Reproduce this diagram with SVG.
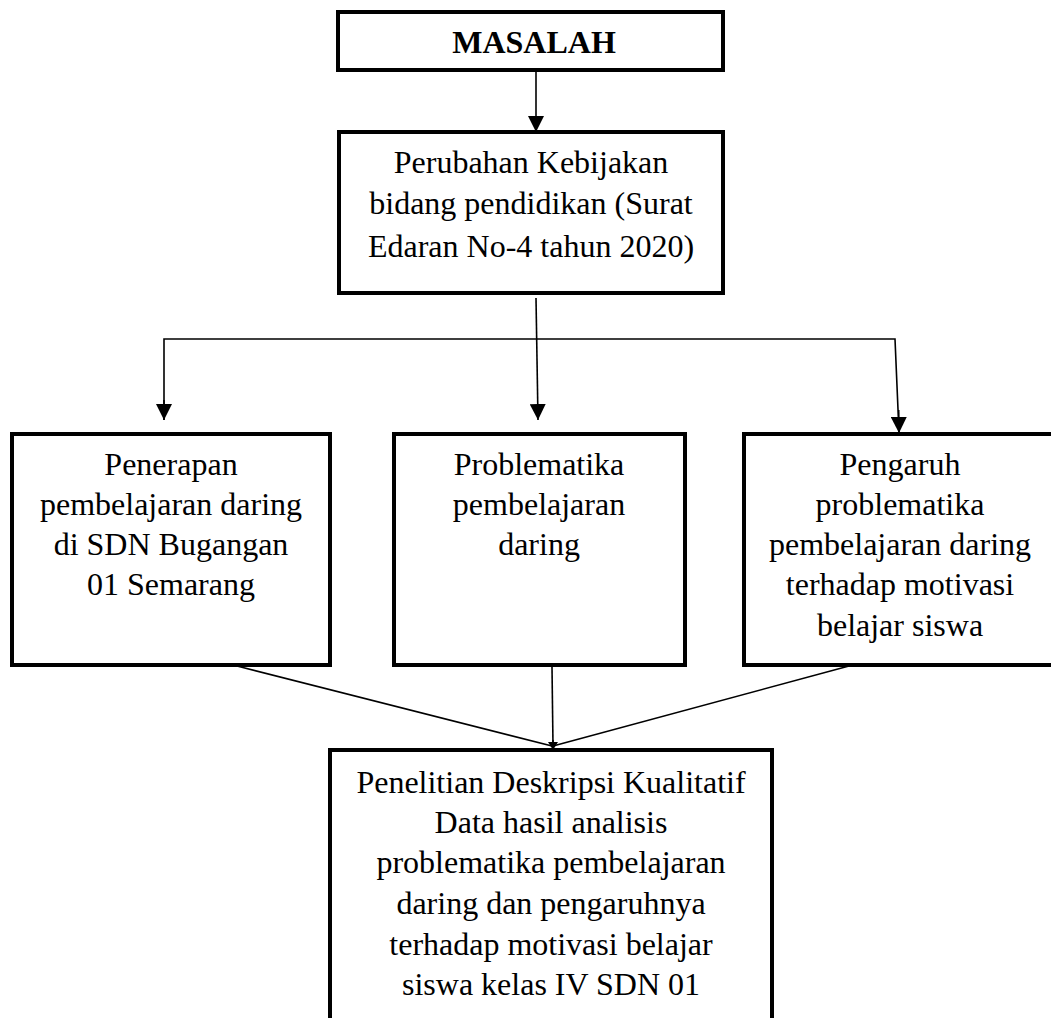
<svg xmlns="http://www.w3.org/2000/svg" width="1051" height="1018" viewBox="0 0 1051 1018">
<style>
.box{fill:#fff;stroke:#000;stroke-width:4}
.t{font-family:"Liberation Serif","Times New Roman",serif;font-size:32px;fill:#000;text-anchor:middle}
.b{font-weight:bold}
.c{stroke:#000;stroke-width:1.6;fill:none}
</style>
<defs>
<marker id="ah" markerUnits="userSpaceOnUse" markerWidth="16" markerHeight="16" viewBox="0 0 16 16" refX="16" refY="8" orient="auto">
<path d="M0,0 L16,8 L0,16 Z" fill="#000"/>
</marker>
<marker id="ahs" markerUnits="userSpaceOnUse" markerWidth="8" markerHeight="10" viewBox="0 0 8 10" refX="8" refY="5" orient="auto">
<path d="M0,0 L8,5 L0,10 Z" fill="#000"/>
</marker>
</defs>
<rect width="1051" height="1018" fill="#fff"/>
<g id="connectors">
<line class="c" x1="536" y1="72" x2="536" y2="132" marker-end="url(#ah)"/>
<line class="c" x1="536" y1="298" x2="538" y2="420" marker-end="url(#ah)"/>
<polyline class="c" points="164,420 164,339 895,339 899,433"/>
<line class="c" x1="164" y1="400" x2="164" y2="420" marker-end="url(#ah)"/>
<line class="c" x1="898.7" y1="410" x2="899" y2="433" marker-end="url(#ah)"/>
<line class="c" x1="237" y1="666" x2="552" y2="746"/>
<line class="c" x1="552" y1="667" x2="553" y2="746"/>
<line class="c" x1="849" y1="666" x2="553" y2="746"/>
<line class="c" x1="553" y1="740" x2="553" y2="750" marker-end="url(#ahs)"/>
</g>
<g id="masalah">
<rect class="box" x="338" y="12" width="385" height="58"/>
<text class="t b" x="534" y="53">MASALAH</text>
</g>
<g id="perubahan">
<rect class="box" x="339" y="132" width="384" height="161"/>
<text class="t" x="531" y="173">Perubahan Kebijakan</text>
<text class="t" x="531" y="214">bidang pendidikan (Surat</text>
<text class="t" x="531" y="257">Edaran No-4 tahun 2020)</text>
</g>
<g id="penerapan">
<rect class="box" x="12" y="434" width="318" height="231"/>
<text class="t" x="171" y="475">Penerapan</text>
<text class="t" x="171" y="515">pembelajaran daring</text>
<text class="t" x="171" y="555">di SDN Bugangan</text>
<text class="t" x="171" y="595">01 Semarang</text>
</g>
<g id="problematika">
<rect class="box" x="394" y="434" width="291" height="231"/>
<text class="t" x="539" y="475">Problematika</text>
<text class="t" x="539" y="515">pembelajaran</text>
<text class="t" x="539" y="555">daring</text>
</g>
<g id="pengaruh">
<rect class="box" x="744" y="434" width="320" height="231"/>
<text class="t" x="900" y="475">Pengaruh</text>
<text class="t" x="900" y="515">problematika</text>
<text class="t" x="900" y="555">pembelajaran daring</text>
<text class="t" x="900" y="595">terhadap motivasi</text>
<text class="t" x="900" y="636">belajar siswa</text>
</g>
<g id="penelitian">
<rect class="box" x="330" y="750" width="442" height="300"/>
<text class="t" x="551" y="793">Penelitian Deskripsi Kualitatif</text>
<text class="t" x="551" y="833">Data hasil analisis</text>
<text class="t" x="551" y="873">problematika pembelajaran</text>
<text class="t" x="551" y="914">daring dan pengaruhnya</text>
<text class="t" x="551" y="955">terhadap motivasi belajar</text>
<text class="t" x="551" y="995">siswa kelas IV SDN 01</text>
</g>
</svg>
